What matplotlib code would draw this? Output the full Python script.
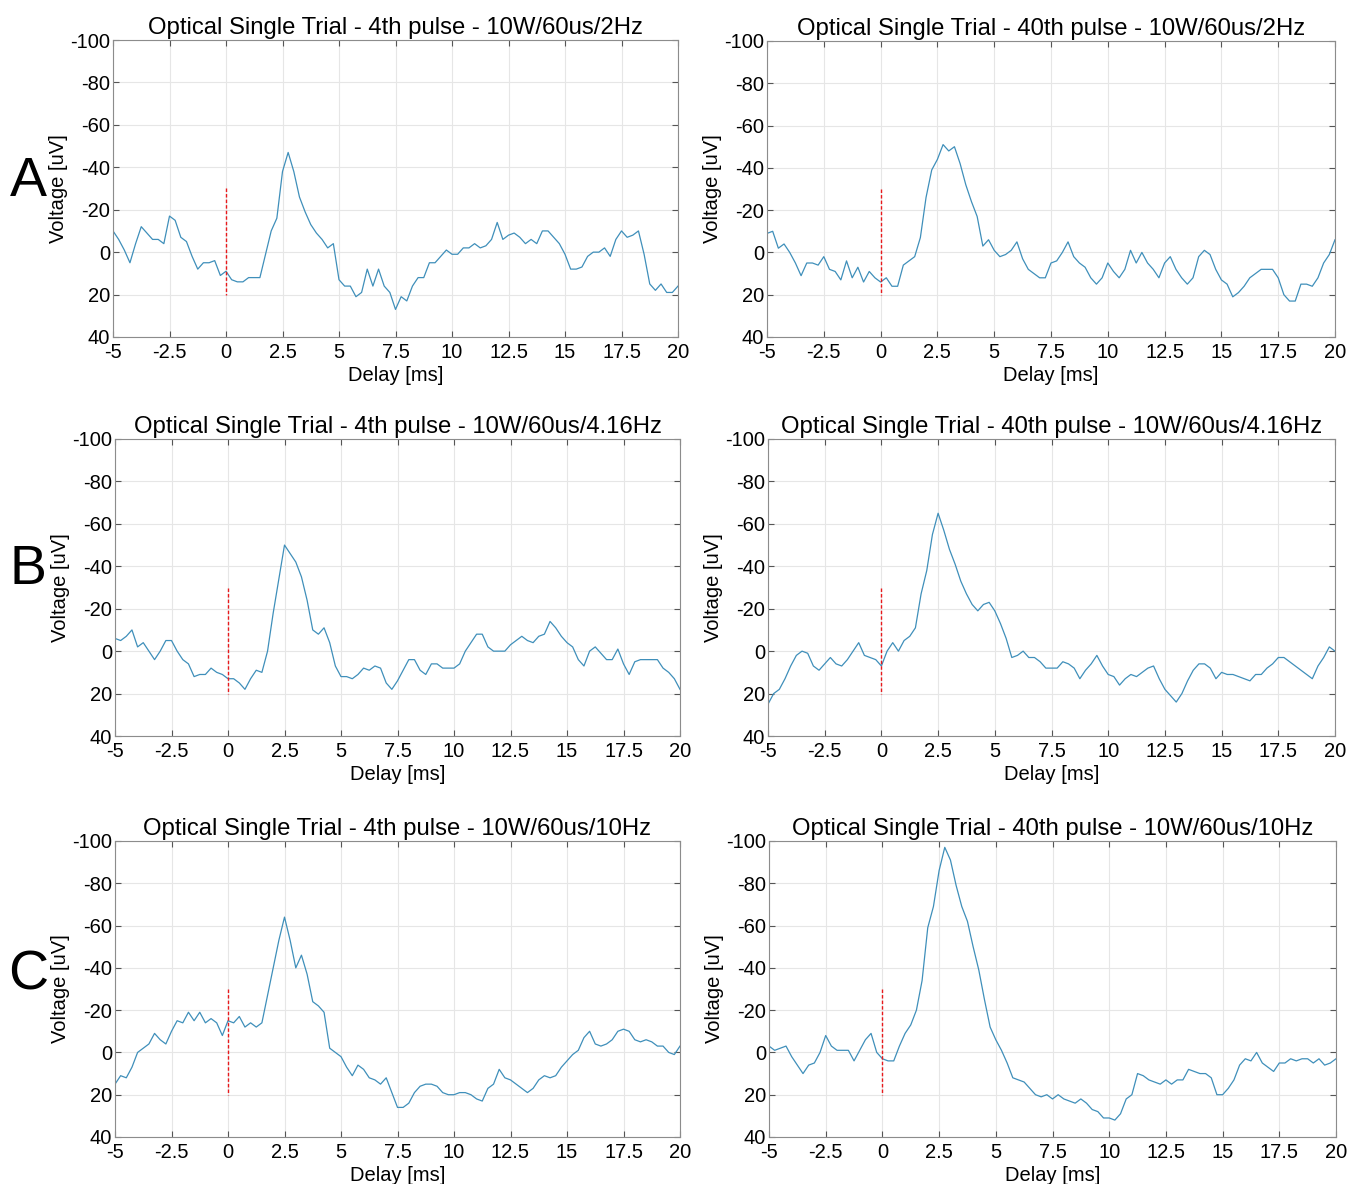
import numpy as np
import matplotlib
matplotlib.use("Agg")
import matplotlib.pyplot as plt

plt.rcParams["font.family"] = ["Liberation Sans", "DejaVu Sans"]
plt.rcParams["axes.unicode_minus"] = False

# Delay axis sampled every 0.25 ms from -5 to 20 ms
delay_ms = np.arange(-5, 20.01, 0.25)

# Voltage traces [uV] (negative = up)
a_4th = [-10, -6, -1, 5, -4, -12, -9, -6, -6, -4, -17, -15, -7, -5, 2, 8, 5, 5, 4, 11,
         9, 13, 14, 14, 12, 12, 12, 1, -10, -16, -38, -47, -38, -26, -19, -13, -9, -6, -2, -4,
         13, 16, 16, 21, 19, 8, 16, 8, 16, 19, 27, 21, 23, 16, 12, 12, 5, 5, 2, -1,
         1, 1, -2, -2, -4, -2, -3, -6, -14, -6, -8, -9, -7, -4, -6, -4, -10, -10, -7, -4,
         1, 8, 8, 7, 2, 0, 0, -2, 2, -6, -10, -7, -8, -10, 1, 15, 18, 15, 19, 19, 16]
a_40th = [-9, -10, -2, -4, 0, 5, 11, 5, 5, 6, 2, 8, 9, 13, 4, 12, 7, 14, 9, 12,
          14, 12, 16, 16, 6, 4, 2, -7, -26, -39, -44, -51, -48, -50, -42, -32, -24, -17, -3, -6,
          -1, 2, 1, -1, -5, 3, 8, 10, 12, 12, 5, 4, 0, -5, 2, 5, 7, 12, 15, 12,
          5, 9, 12, 8, -1, 5, 0, 5, 8, 12, 5, 2, 8, 12, 15, 12, 2, -1, 1, 8,
          13, 15, 21, 19, 16, 12, 10, 8, 8, 8, 12, 20, 23, 23, 15, 15, 16, 12, 5, 1, -6]
b_4th = [-6, -5, -7, -10, -2, -4, 0, 4, 0, -5, -5, 0, 4, 6, 12, 11, 11, 8, 10, 11,
         13, 13, 15, 18, 13, 9, 10, 0, -18, -34, -50, -46, -42, -35, -24, -10, -8, -11, -4, 7,
         12, 12, 13, 11, 8, 9, 7, 8, 15, 18, 14, 9, 4, 4, 9, 11, 6, 6, 8, 8,
         8, 6, 0, -4, -8, -8, -2, 0, 0, 0, -3, -5, -7, -5, -4, -7, -8, -14, -11, -7,
         -4, -2, 4, 7, 0, -2, 1, 4, 4, -1, 6, 11, 5, 4, 4, 4, 4, 8, 10, 13, 18]
b_40th = [25, 20, 18, 13, 7, 2, 0, 1, 7, 9, 6, 3, 6, 7, 4, 0, -4, 2, 3, 4,
          7, 0, -4, 0, -5, -7, -11, -27, -38, -55, -65, -57, -48, -41, -33, -27, -22, -19, -22, -23,
          -19, -13, -6, 3, 2, 0, 3, 3, 5, 8, 8, 8, 5, 6, 8, 13, 9, 6, 2, 7,
          11, 12, 16, 13, 11, 12, 10, 8, 7, 13, 18, 21, 24, 20, 14, 9, 6, 6, 8, 13,
          10, 11, 11, 12, 13, 14, 11, 11, 8, 6, 3, 3, 5, 7, 9, 11, 13, 7, 3, -2, 0]
c_4th = [15, 11, 12, 7, 0, -2, -4, -9, -6, -4, -10, -15, -14, -19, -15, -19, -14, -16, -14, -8,
         -15, -14, -17, -12, -14, -12, -14, -27, -40, -53, -64, -53, -40, -46, -37, -24, -22, -19, -2, 0,
         2, 7, 11, 6, 8, 12, 13, 15, 12, 19, 26, 26, 24, 19, 16, 15, 15, 16, 19, 20,
         20, 19, 19, 20, 22, 23, 17, 15, 8, 12, 13, 15, 17, 19, 17, 13, 11, 12, 11, 7,
         4, 1, -1, -7, -10, -4, -3, -4, -6, -10, -11, -10, -6, -5, -6, -5, -3, -3, 0, 1, -3]
c_40th = [-3, -1, -2, -3, 2, 6, 10, 6, 5, 0, -8, -3, -1, -1, -1, 4, -1, -6, -9, 0,
          3, 4, 4, -3, -9, -13, -20, -34, -59, -69, -86, -97, -91, -79, -69, -62, -50, -39, -25, -12,
          -6, -1, 5, 12, 13, 14, 17, 20, 21, 20, 22, 20, 22, 23, 24, 22, 24, 27, 28, 31,
          31, 32, 29, 22, 20, 10, 11, 13, 14, 15, 13, 15, 13, 13, 8, 9, 10, 10, 12, 20,
          20, 17, 13, 6, 3, 4, 0, 5, 7, 9, 5, 5, 3, 4, 3, 3, 5, 3, 6, 5, 3]

traces = [a_4th, a_40th, b_4th, b_40th, c_4th, c_40th]
titles = [
    "Optical Single Trial - 4th pulse - 10W/60us/2Hz",
    "Optical Single Trial - 40th pulse - 10W/60us/2Hz",
    "Optical Single Trial - 4th pulse - 10W/60us/4.16Hz",
    "Optical Single Trial - 40th pulse - 10W/60us/4.16Hz",
    "Optical Single Trial - 4th pulse - 10W/60us/10Hz",
    "Optical Single Trial - 40th pulse - 10W/60us/10Hz",
]
row_letters = ["A", "B", "C"]
x_ticks = [-5, -2.5, 0, 2.5, 5, 7.5, 10, 12.5, 15, 17.5, 20]
x_tick_labels = ["-5", "-2.5", "0", "2.5", "5", "7.5", "10", "12.5", "15", "17.5", "20"]
y_ticks = [-100, -80, -60, -40, -20, 0, 20, 40]
stim_marker = [-30, 20]  # extent of the red stimulus line at 0 ms

fig = plt.figure(figsize=(13.47, 11.84), dpi=100)

W, H = 1347, 1184
# axes boxes in pixels: (left, top, right, bottom)
boxes = [
    (113, 40, 678, 337), (767, 41, 1335, 337),
    (115, 439, 680, 736), (768, 439, 1335, 736),
    (115, 841, 680, 1137), (769, 841, 1336, 1137),
]
letter_y = [182, 570, 975]

line_color = "#3f8fba"

for i, trace in enumerate(traces):
    l, t, r, b = boxes[i]
    ax = fig.add_axes([l / W, (H - b) / H, (r - l) / W, (b - t) / H])
    ax.plot(delay_ms, trace, color=line_color, linewidth=0.9)
    ax.plot([0, 0], stim_marker, color="#e8191c", linestyle=(0, (2.5, 1.5)), linewidth=1.0)

    ax.set_xlim(-5, 20)
    ax.set_ylim(40, -100)
    ax.set_xticks(x_ticks)
    ax.set_xticklabels(x_tick_labels)
    ax.set_yticks(y_ticks)
    ax.tick_params(direction="in", length=4, color="#555555", labelsize=14.5,
                   top=True, right=True)
    ax.tick_params(axis="x", pad=4.5)
    ax.tick_params(axis="y", pad=2)
    ax.grid(True, color="#e6e6e6", linewidth=0.8)
    ax.set_axisbelow(True)
    for sp in ax.spines.values():
        sp.set_color("#8c8c8c")
        sp.set_linewidth(0.8)

    ax.set_title(titles[i], fontsize=17.2, pad=4)
    ax.set_xlabel("Delay [ms]", fontsize=14.5, labelpad=3)
    ax.set_ylabel("Voltage [uV]", fontsize=14.5)
    ax.yaxis.set_label_coords(-45 / (r - l), 0.5)

    if i % 2 == 0:
        fig.text(28 / W, (H - letter_y[i // 2]) / H, row_letters[i // 2], fontsize=40,
                 ha="center", va="center")

fig.savefig("out.png", dpi=100, facecolor="white")
